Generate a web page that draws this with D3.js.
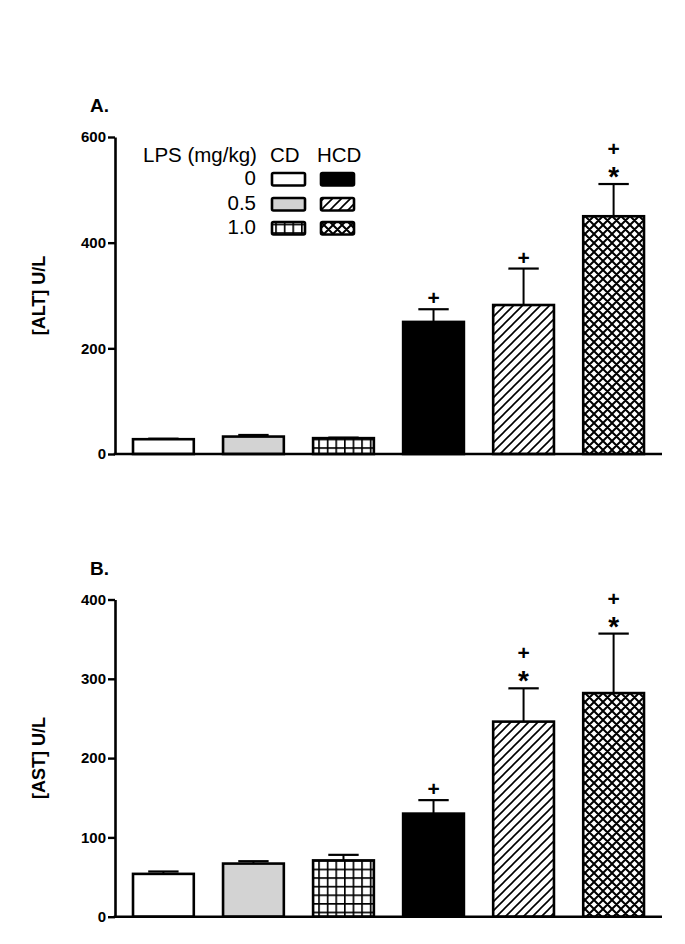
<!DOCTYPE html>
<html>
<head>
<meta charset="utf-8">
<script src="https://cdn.jsdelivr.net/npm/d3@7"></script>
<style>
  body { margin: 0; background: #fff; }
  svg { font-family: "Liberation Sans", Arial, sans-serif; }
</style>
</head>
<body>
<div id="chart"></div>
<script>
// Groups: diet (CD / HCD) x LPS dose
const groups = ['CD 0', 'CD 0.5', 'CD 1.0', 'HCD 0', 'HCD 0.5', 'HCD 1.0'];
const doses = ['0', '0.5', '1.0'];
const diets = ['CD', 'HCD'];

// Panel A - ALT
const altMeans = [28, 33, 30, 250, 282, 450];
const altErr = [1, 3, 1, 24, 69, 61];
const altMarks = [[], [], [], ['+'], ['+'], ['+', '*']];
const altTicks = [0, 200, 400, 600];

// Panel B - AST
const astMeans = [54, 67, 71, 130, 246, 282];
const astErr = [3, 3, 7, 17, 42, 75];
const astMarks = [[], [], [], ['+'], ['+', '*'], ['+', '*']];
const astTicks = [0, 100, 200, 300, 400];

const fills = ['#ffffff', '#d3d3d3', 'url(#grid)', '#000000', 'url(#diag)', 'url(#cross)'];

const W = 685, H = 944;
const svg = d3.select('#chart').append('svg')
    .attr('width', W)
    .attr('height', H);

// Patterns
const defs = svg.append('defs');

const grid = defs.append('pattern')
    .attr('id', 'grid')
    .attr('patternUnits', 'userSpaceOnUse')
    .attr('width', 8.6).attr('height', 8.6);
grid.append('rect').attr('width', 8.6).attr('height', 8.6).attr('fill', '#fff');
grid.append('path')
    .attr('d', 'M0,0.8 H8.6 M0.8,0 V8.6')
    .attr('stroke', '#000').attr('stroke-width', 1.7);

const diag = defs.append('pattern')
    .attr('id', 'diag')
    .attr('patternUnits', 'userSpaceOnUse')
    .attr('width', 9).attr('height', 9);
diag.append('rect').attr('width', 9).attr('height', 9).attr('fill', '#fff');
diag.append('path')
    .attr('d', 'M-2,2 L2,-2 M0,9 L9,0 M7,11 L11,7')
    .attr('stroke', '#000').attr('stroke-width', 1.6);

const cross = defs.append('pattern')
    .attr('id', 'cross')
    .attr('patternUnits', 'userSpaceOnUse')
    .attr('width', 9).attr('height', 9);
cross.append('rect').attr('width', 9).attr('height', 9).attr('fill', '#fff');
cross.append('path')
    .attr('d', 'M-2,2 L2,-2 M0,9 L9,0 M7,11 L11,7 M-2,7 L2,11 M0,0 L9,9 M7,-2 L11,2')
    .attr('stroke', '#000').attr('stroke-width', 2);

// Shared x scale
const x = d3.scaleBand()
    .domain(groups)
    .range([115, 662])
    .paddingInner(0.325)
    .paddingOuter(0.2);

const xLeft = 115, xRight = 662;

function drawPanel(opts) {
    const y = d3.scaleLinear()
        .domain([0, d3.max(opts.ticks)])
        .range([opts.bottom, opts.top]);

    const g = svg.append('g');

    // Y axis
    const yAxis = g.append('g')
        .attr('transform', `translate(${xLeft},0)`)
        .call(d3.axisLeft(y)
            .tickValues(opts.ticks)
            .tickSize(7)
            .tickSizeOuter(0)
            .tickPadding(2)
            .tickFormat(d3.format('d')));
    yAxis.select('.domain').attr('stroke-width', 2.6);
    yAxis.selectAll('.tick line').attr('stroke-width', 2.4);
    yAxis.selectAll('.tick text')
        .style('font-size', '15px')
        .style('font-weight', 'bold')
        .attr('fill', '#000');

    // Bars
    g.selectAll('.bar')
        .data(opts.means)
        .enter()
        .append('rect')
        .attr('class', 'bar')
        .attr('x', (d, i) => x(groups[i]))
        .attr('y', d => y(d))
        .attr('width', x.bandwidth())
        .attr('height', d => y(0) - y(d))
        .attr('fill', (d, i) => fills[i])
        .attr('stroke', '#000')
        .attr('stroke-width', 2.6);

    // Error bars (upper only)
    const capW = x.bandwidth() / 2;
    opts.means.forEach((m, i) => {
        const cx = x(groups[i]) + x.bandwidth() / 2;
        const top = y(m + opts.err[i]);
        g.append('line')
            .attr('x1', cx).attr('x2', cx)
            .attr('y1', y(m)).attr('y2', top)
            .attr('stroke', '#000').attr('stroke-width', 2);
        g.append('line')
            .attr('x1', cx - capW / 2).attr('x2', cx + capW / 2)
            .attr('y1', top).attr('y2', top)
            .attr('stroke', '#000').attr('stroke-width', 2.2);

        // Significance marks: "+" stacked over "*"
        const marks = opts.marks[i];
        if (!marks.length) return;
        const hasStar = marks.includes('*');
        const t = g.append('text')
            .attr('x', cx)
            .attr('y', hasStar ? top - 28 : top - 4)
            .attr('text-anchor', 'middle')
            .style('font-weight', 'bold');
        t.append('tspan')
            .attr('x', cx)
            .style('font-size', '21px')
            .text('+');
        if (hasStar) {
            t.append('tspan')
                .attr('x', cx)
                .attr('dy', 30)
                .style('font-size', '28px')
                .text('*');
        }
    });

    // X baseline
    g.append('line')
        .attr('x1', xLeft - 1.3).attr('x2', xRight)
        .attr('y1', y(0)).attr('y2', y(0))
        .attr('stroke', '#000').attr('stroke-width', 2.6);

    // Y label
    g.append('text')
        .attr('transform', `translate(45,${(opts.top + opts.bottom) / 2}) rotate(-90)`)
        .attr('text-anchor', 'middle')
        .style('font-size', '18px')
        .style('font-weight', 'bold')
        .text(opts.label);

    // Panel letter
    g.append('text')
        .attr('x', 90)
        .attr('y', opts.top - 25)
        .style('font-size', '19px')
        .style('font-weight', 'bold')
        .text(opts.letter);

    return y;
}

drawPanel({
    means: altMeans, err: altErr, marks: altMarks, ticks: altTicks,
    top: 137, bottom: 454, label: '[ALT] U/L', letter: 'A.'
});

drawPanel({
    means: astMeans, err: astErr, marks: astMarks, ticks: astTicks,
    top: 599.5, bottom: 916.7, label: '[AST] U/L', letter: 'B.'
});

// Legend
const legend = svg.append('g');
legend.append('text')
    .attr('x', 143).attr('y', 162)
    .style('font-size', '20.5px')
    .text('LPS (mg/kg)');
const colX = [272, 321];
const colTextX = [270, 317];
diets.forEach((d, j) => {
    legend.append('text')
        .attr('x', colTextX[j]).attr('y', 162)
        .style('font-size', '20.5px')
        .text(d);
});
const rowY = [173, 198, 222];
doses.forEach((dose, r) => {
    legend.append('text')
        .attr('x', 256).attr('y', rowY[r] + 12)
        .attr('text-anchor', 'end')
        .style('font-size', '20.5px')
        .text(dose);
    diets.forEach((d, j) => {
        legend.append('rect')
            .attr('x', colX[j]).attr('y', rowY[r])
            .attr('width', 33).attr('height', 12.5)
            .attr('rx', 1.5)
            .attr('fill', fills[j * 3 + r])
            .attr('stroke', '#000')
            .attr('stroke-width', 2.6);
    });
});
</script>
</body>
</html>
